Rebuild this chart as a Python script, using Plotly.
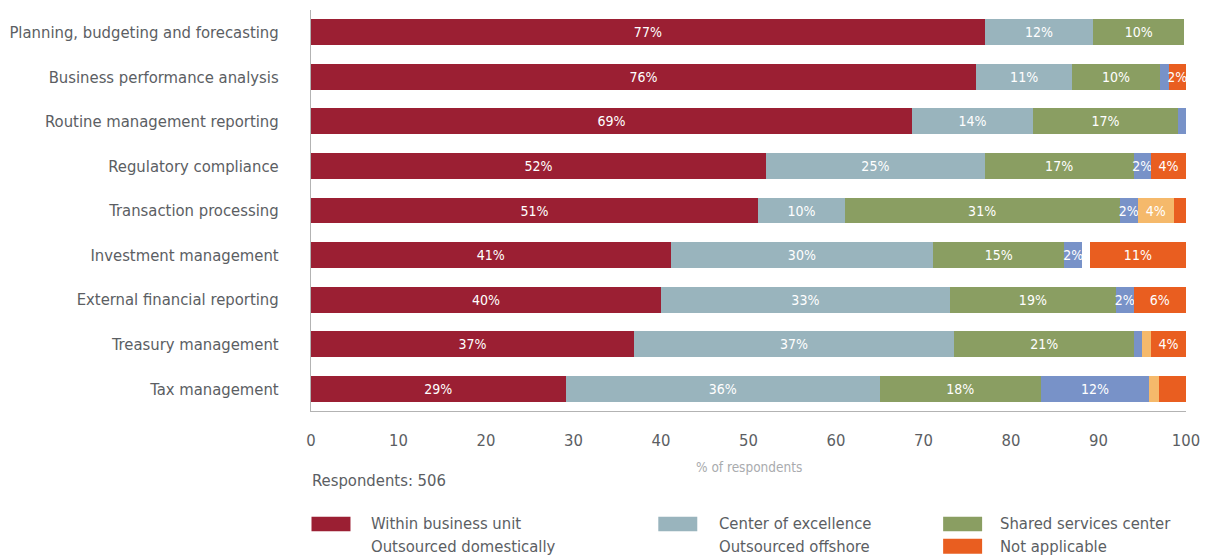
import plotly.graph_objects as go

# Functions ranked by where the work is done (% of respondents)
categories = [
    "Planning, budgeting and forecasting",
    "Business performance analysis",
    "Routine management reporting",
    "Regulatory compliance",
    "Transaction processing",
    "Investment management",
    "External financial reporting",
    "Treasury management",
    "Tax management",
]

within_business_unit = [77.0, 76.0, 68.7, 52.0, 51.1, 41.1, 40.0, 36.9, 29.1]
center_of_excellence = [12.4, 11.0, 13.8, 25.0, 9.9, 30.0, 33.0, 36.6, 35.9]
shared_services_center = [10.4, 10.0, 16.6, 17.0, 31.4, 15.0, 19.0, 20.6, 18.4]
outsourced_domestically = [0.0, 1.0, 0.9, 2.0, 2.1, 2.0, 2.0, 0.9, 12.4]
outsourced_offshore = [0.0, 0.0, 0.0, 0.0, 4.1, 0.9, 0.0, 1.0, 1.1]
not_applicable = [0.0, 2.0, 0.0, 4.0, 1.4, 11.0, 6.0, 4.0, 3.1]

x_ticks = [0, 10, 20, 30, 40, 50, 60, 70, 80, 90, 100]
respondents = 506

series = [
    ("Within business unit", within_business_unit, "#9b1f33"),
    ("Center of excellence", center_of_excellence, "#99b4bd"),
    ("Shared services center", shared_services_center, "#8a9e62"),
    ("Outsourced domestically", outsourced_domestically, "#7892c8"),
    ("Outsourced offshore", outsourced_offshore, "#f5b96b"),
    ("Not applicable", not_applicable, "#e95e20"),
]

# segments too narrow (or deliberately left unlabeled) get no value label
label_min = 1.5
unlabeled = {("Tax management", "Not applicable")}
# the offshore slice for investment management is shown as a blank gap
blank_segments = {("Investment management", "Outsourced offshore")}

FONT = "Liberation Sans Narrow, DejaVu Sans Condensed, Roboto, sans-serif"
TEXT_GREY = "#5b5e63"
AXIS_GREY = "#b3b3b3"

fig = go.Figure()
for name, values, color in series:
    texts = []
    colors = []
    for cat, v in zip(categories, values):
        show = v >= label_min and (cat, name) not in unlabeled
        texts.append(f"{v:.0f}%" if show else "")
        colors.append("#ffffff" if (cat, name) in blank_segments else color)
    fig.add_trace(go.Bar(
        name=name,
        y=categories,
        x=values,
        orientation="h",
        marker=dict(color=colors, line=dict(width=0)),
        text=texts,
        textposition="inside",
        insidetextanchor="middle",
        textangle=0,
        textfont=dict(family=FONT, size=14, color="#ffffff"),
        showlegend=False,
        hoverinfo="skip",
    ))

W, H = 1216, 558
L, R, T, B = 310.5, 30, 9.5, 147
pw, ph = W - L - R, H - T - B


def px(x):
    return (x - L) / pw


def py(y):
    return (H - B - y) / ph


shapes = []
annotations = []

# legend: three columns, two rows
legend_cols = [(311, 350, 369), (658, 697, 717), (943, 982, 998)]
legend_rows = [(517, 531.5, 524), (539, 554, 547)]
legend_items = [
    (0, 0, "Within business unit", "#9b1f33", True),
    (1, 0, "Center of excellence", "#99b4bd", True),
    (2, 0, "Shared services center", "#8a9e62", True),
    (0, 1, "Outsourced domestically", "#7892c8", False),
    (1, 1, "Outsourced offshore", "#f5b96b", False),
    (2, 1, "Not applicable", "#e95e20", True),
]
for c, r, label, color, swatch in legend_items:
    x0, x1, tx = legend_cols[c]
    y0, y1, ty = legend_rows[r]
    if swatch:
        shapes.append(dict(type="rect", xref="paper", yref="paper",
                           x0=px(x0), x1=px(x1), y0=py(y1), y1=py(y0),
                           fillcolor=color, line=dict(width=0)))
    annotations.append(dict(xref="paper", yref="paper", x=px(tx), y=py(ty),
                            xanchor="left", yanchor="middle", showarrow=False,
                            text=label, font=dict(family=FONT, size=16.5, color=TEXT_GREY)))

annotations.append(dict(xref="paper", yref="paper", x=0.5, y=py(467),
                        xanchor="center", yanchor="middle", showarrow=False,
                        text="% of respondents",
                        font=dict(family=FONT, size=13.5, color="#a9abae")))
annotations.append(dict(xref="paper", yref="paper", x=px(309), y=py(481),
                        xanchor="left", yanchor="middle", showarrow=False,
                        text=f"Respondents: {respondents}",
                        font=dict(family=FONT, size=16.5, color=TEXT_GREY)))

fig.update_layout(
    width=W, height=H,
    margin=dict(l=L, r=R, t=T, b=B, pad=0),
    barmode="stack",
    bargap=0.42,
    plot_bgcolor="#ffffff",
    paper_bgcolor="#ffffff",
    shapes=shapes,
    annotations=annotations,
    uniformtext=dict(minsize=14, mode="show"),
    xaxis=dict(
        range=[0, 100],
        tickvals=x_ticks,
        ticktext=[str(t) for t in x_ticks],
        showgrid=False, zeroline=False,
        showline=True, linecolor=AXIS_GREY, linewidth=1,
        ticks="", ticklabelstandoff=14,
        tickfont=dict(family=FONT, size=16.5, color=TEXT_GREY),
        automargin=False,
        fixedrange=True,
    ),
    yaxis=dict(
        categoryorder="array",
        categoryarray=categories[::-1],
        showgrid=False, zeroline=False,
        showline=True, linecolor=AXIS_GREY, linewidth=1,
        ticks="", ticklabelstandoff=28,
        tickfont=dict(family=FONT, size=16.5, color=TEXT_GREY),
        automargin=False,
        fixedrange=True,
    ),
)

fig.write_html("out.html")
